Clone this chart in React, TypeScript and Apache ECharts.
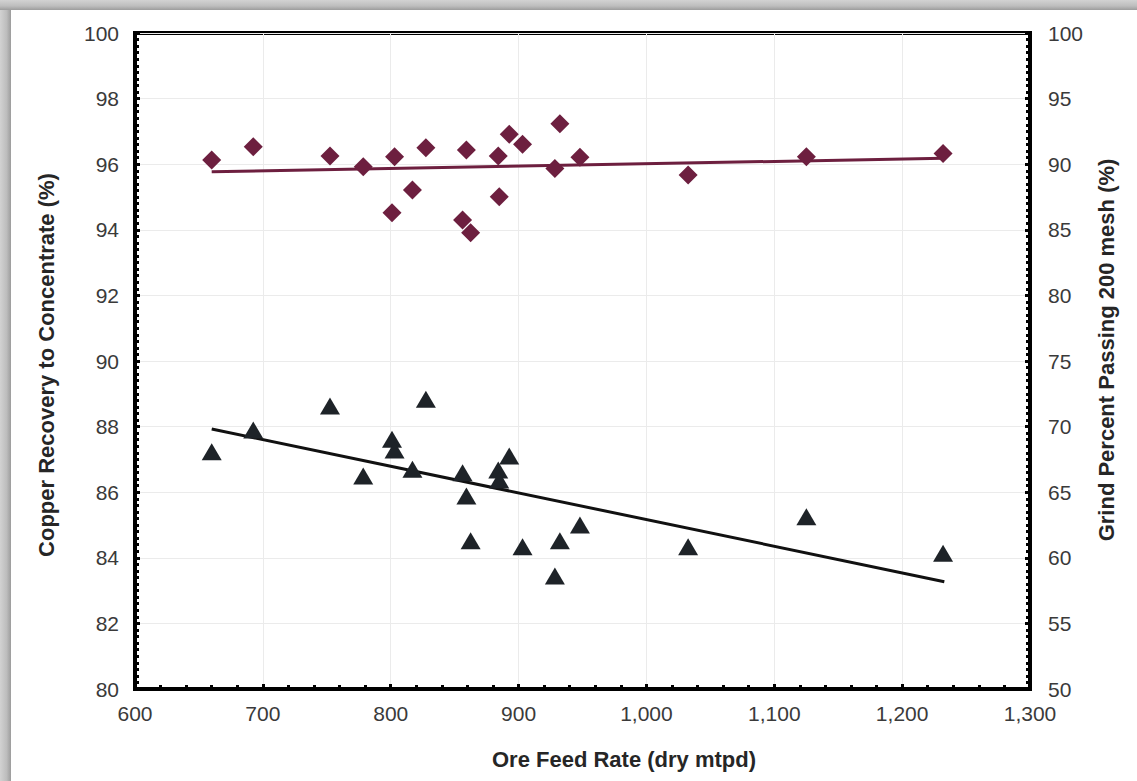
import React, { useEffect, useRef } from "react";
import * as echarts from "echarts";

// Ore feed rate (dry mtpd) for each sample
const feedRate = [660, 692.5, 752.5, 778.5, 801, 803, 817, 827.5, 856.2, 859.2, 862.5, 884.1, 884.9, 892.7, 903.1, 928.4, 932.3, 948, 1032.6, 1125.1, 1232];
// Copper recovery to concentrate (%), left axis, diamonds
const copperRecovery = [96.13, 96.53, 96.25, 95.92, 94.52, 96.23, 95.21, 96.5, 94.3, 96.43, 93.91, 96.25, 95.01, 96.91, 96.61, 95.87, 97.23, 96.21, 95.67, 96.23, 96.33];
// Grind percent passing 200 mesh (%), right axis, triangles
const grindPassing = [68.09, 69.74, 71.57, 66.23, 69.03, 68.22, 66.74, 72.08, 66.49, 64.71, 61.3, 66.69, 65.93, 67.76, 60.85, 58.61, 61.3, 62.5, 60.85, 63.13, 60.34];
// Trend lines (end points)
const recoveryTrendX = [660, 1232];
const recoveryTrendY = [95.77, 96.18];
const grindTrendX = [660, 1233];
const grindTrendY = [69.82, 58.18];

const xTitle = "Ore Feed Rate (dry mtpd)";
const leftTitle = "Copper Recovery to Concentrate (%)";
const rightTitle = "Grind Percent Passing 200 mesh (%)";

const MAROON = "#6d1f3f";
const DARK = "#1e2328";
const FONT = "Arial, 'Liberation Sans', sans-serif";

export default function App() {
  const ref = useRef<HTMLDivElement>(null);
  useEffect(() => {
    const chart = echarts.init(ref.current!, null, { renderer: "svg" });
    const tickStyle = { color: "#000", width: 3 };
    const axisLabel = { color: "#3a3a3a", fontSize: 21, fontFamily: FONT };
    const titleStyle = { fontSize: 22, fontWeight: "bold", fontFamily: FONT, fill: "#262626", align: "center", verticalAlign: "middle" };
    chart.setOption({
      animation: false,
      backgroundColor: "#ffffff",
      grid: {
        left: 135,
        right: 107,
        top: 33,
        bottom: 92,
        show: true,
        borderColor: "#000",
        borderWidth: 4,
        outerBoundsMode: "none",
        containLabel: false,
      },
      xAxis: {
        type: "value",
        min: 600,
        max: 1300,
        interval: 100,
        axisLine: { show: true, onZero: false, lineStyle: { color: "#000", width: 4 } },
        axisTick: { show: true, inside: true, length: 5, lineStyle: tickStyle },
        minorTick: { show: true, splitNumber: 5, length: 4, lineStyle: tickStyle },
        splitLine: { show: true, lineStyle: { color: "#ebebeb", width: 1 } },
        axisLabel: { ...axisLabel, margin: 14, formatter: (v: number) => v.toLocaleString("en-US") },
      },
      yAxis: [
        {
          type: "value",
          position: "left",
          min: 80,
          max: 100,
          interval: 2,
          axisLine: { show: true, onZero: false, lineStyle: { color: "#000", width: 4 } },
          axisTick: { show: true, inside: true, length: 5, lineStyle: tickStyle },
          minorTick: { show: true, splitNumber: 10, length: 4, lineStyle: tickStyle },
          splitLine: { show: true, lineStyle: { color: "#ebebeb", width: 1 } },
          axisLabel: { ...axisLabel, margin: 16 },
        },
        {
          type: "value",
          position: "right",
          min: 50,
          max: 100,
          interval: 5,
          axisLine: { show: true, onZero: false, lineStyle: { color: "#000", width: 4 } },
          axisTick: { show: true, inside: true, length: 5, lineStyle: tickStyle },
          minorTick: { show: true, splitNumber: 10, length: 4, lineStyle: tickStyle },
          splitLine: { show: false },
          axisLabel: { ...axisLabel, margin: 18 },
        },
      ],
      series: [
        {
          type: "line",
          yAxisIndex: 0,
          data: recoveryTrendX.map((x, i) => [x, recoveryTrendY[i]]),
          showSymbol: false,
          lineStyle: { color: MAROON, width: 3 },
          z: 2,
        },
        {
          type: "line",
          yAxisIndex: 1,
          data: grindTrendX.map((x, i) => [x, grindTrendY[i]]),
          showSymbol: false,
          lineStyle: { color: "#111", width: 3 },
          z: 2,
        },
        {
          type: "scatter",
          yAxisIndex: 0,
          data: feedRate.map((x, i) => [x, copperRecovery[i]]),
          symbol: "diamond",
          symbolSize: [19, 19],
          itemStyle: { color: MAROON, opacity: 1 },
          z: 3,
        },
        {
          type: "scatter",
          yAxisIndex: 1,
          data: feedRate.map((x, i) => [x, grindPassing[i]]),
          symbol: "triangle",
          symbolSize: [20, 17],
          itemStyle: { color: DARK, opacity: 1 },
          z: 3,
        },
      ],
      graphic: [
        {
          type: "rect",
          shape: { x: 0, y: 0, width: 11, height: 781 },
          style: {
            fill: new echarts.graphic.LinearGradient(0, 0, 1, 0, [
              { offset: 0, color: "#d2d2d2" },
              { offset: 0.6, color: "#bdbdbd" },
              { offset: 1, color: "#9c9c9c" },
            ]),
          },
          silent: true,
        },
        {
          type: "rect",
          shape: { x: 0, y: 0, width: 1137, height: 10 },
          style: {
            fill: new echarts.graphic.LinearGradient(0, 0, 0, 1, [
              { offset: 0, color: "#d2d2d2" },
              { offset: 0.6, color: "#bdbdbd" },
              { offset: 1, color: "#9c9c9c" },
            ]),
          },
          silent: true,
        },
        {
          type: "text",
          x: 624,
          y: 759,
          style: { ...titleStyle, text: xTitle },
        },
        {
          type: "text",
          x: 46,
          y: 365,
          rotation: Math.PI / 2,
          style: { ...titleStyle, text: leftTitle },
        },
        {
          type: "text",
          x: 1106,
          y: 350,
          rotation: Math.PI / 2,
          style: { ...titleStyle, text: rightTitle },
        },
      ],
    });
    return () => chart.dispose();
  }, []);
  return <div ref={ref} style={{ position: "fixed", left: 0, top: 0, width: 1137, height: 781 }} />;
}
